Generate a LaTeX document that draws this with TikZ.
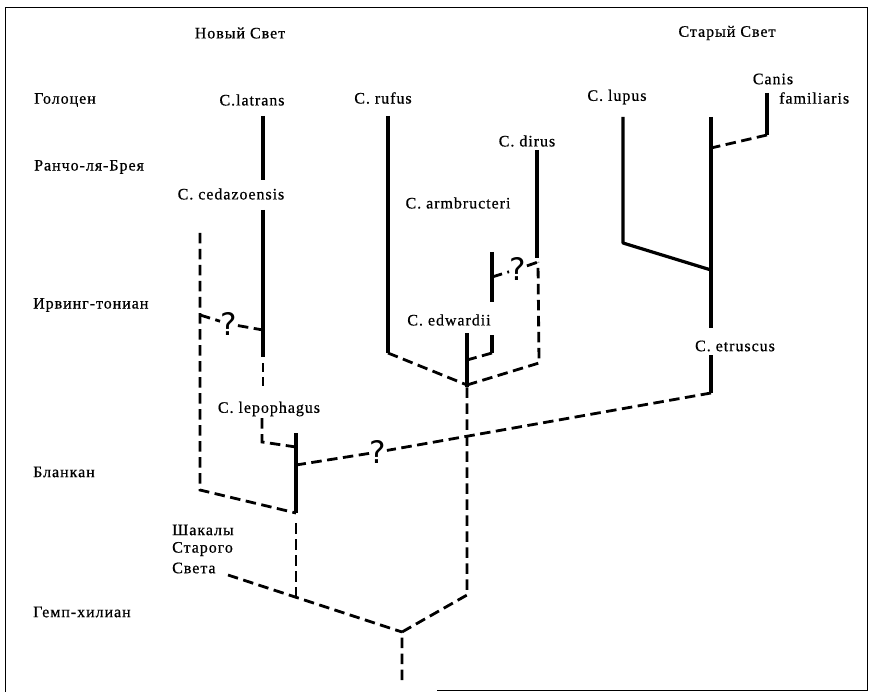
\documentclass[tikz,border=0pt]{standalone}
\usepackage{fontspec}
\setmainfont{Liberation Serif}[LetterSpace=6,FakeBold=0.6]
\newfontfamily\qfont{DejaVu Sans}
\begin{document}
\begin{tikzpicture}[x=1pt,y=-1pt,
  lbl/.style={inner sep=0pt,font=\fontsize{16}{19}\selectfont},
  era/.style={lbl,anchor=west},
  sol/.style={line width=3.2pt},
  dsh/.style={line width=2.8pt,dash pattern=on 10.5pt off 5.5pt},
  qm/.style={inner sep=0.5pt,font=\qfont\fontsize{31}{34}\selectfont}]
\useasboundingbox (0,0) rectangle (869,692);
% frame
\coordinate (f1) at (5,7); \coordinate (f2) at (867,7);
\coordinate (f3) at (867,690); \coordinate (f4) at (437,690);
\coordinate (f5) at (5,692);
\draw[line width=0.8pt] (f5) -- (f1) -- (f2) -- (f3) -- (f4);
% headings
\node[lbl] (nw) at (240,33) {Новый\hspace{5pt}Свет};
\node[lbl] (ow) at (727,33) {Старый\hspace{5pt}Свет};
% eras
\node[era] (e1) at (34,100) {Голоцен};
\node[era] (e2) at (34,167) {Ранчо-ля-Брея};
\node[era] (e3) at (33,305) {Ирвинг-тониан};
\node[era] (e4) at (33,472) {Бланкан};
\node[era] (e5) at (33,612) {Гемп-хилиан};
% species
\node[lbl] (latrans) at (252,100) {C.latrans};
\node[lbl] (rufus) at (383,98) {C. rufus};
\node[lbl] (lupus) at (617,97) {C. lupus};
\node[lbl] (canis) at (773,79) {Canis};
\node[lbl,anchor=west] (famil) at (779,98) {familiaris};
\node[lbl] (dirus) at (527,141) {C. dirus};
\node[lbl] (cedaz) at (231,194) {C. cedazoensis};
\node[lbl] (armb) at (458,203) {C. armbructeri};
\node[lbl] (edw) at (449,320) {C. edwardii};
\node[lbl] (etr) at (735,346) {C. etruscus};
\node[lbl] (lepo) at (269,409) {C. lepophagus};
\node[lbl,anchor=west] (j1) at (172,530) {Шакалы};
\node[lbl,anchor=west] (j2) at (172,549) {Старого};
\node[lbl,anchor=west] (j3) at (172,568) {Света};
% question marks
\node[qm] (q1) at (229,324) {?};
\node[qm] (q2) at (518,269) {?};
\node[qm] (q3) at (378,452) {?};
% coordinates
\coordinate (la1) at (263,116); \coordinate (la2) at (263,180);
\coordinate (la3) at (263,210); \coordinate (la4) at (263,330);
\coordinate (la5) at (263,357); \coordinate (la5b) at (263,363);
\coordinate (la6) at (263,390);
\coordinate (lp1) at (262,418); \coordinate (lp2) at (262,442);
\coordinate (lp3) at (296,447);
\coordinate (lb1) at (296,433); \coordinate (lb2) at (296,465);
\coordinate (lb3) at (296,513); \coordinate (lb4) at (296,523);
\coordinate (lb5) at (296,597);
\coordinate (ld1) at (200,233); \coordinate (ld2) at (200,315);
\coordinate (ld3) at (200,490);
\coordinate (ja) at (228,575);
\coordinate (root) at (402,632); \coordinate (rootb) at (402,680);
\coordinate (ed0) at (467,595); \coordinate (ed1) at (467,387);
\coordinate (ed2) at (467,333); \coordinate (edj) at (467,385);
\coordinate (ed3) at (467,360);
\coordinate (ru1) at (388,116); \coordinate (ru2) at (388,353);
\coordinate (di1) at (537,150); \coordinate (di2) at (537,258);
\coordinate (di3) at (538,262); \coordinate (di4) at (539,363);
\coordinate (ar1) at (492,252); \coordinate (ar2) at (492,302);
\coordinate (ar3) at (492,277);
\coordinate (sm1) at (492,335); \coordinate (sm2) at (492,353);
\coordinate (lu1) at (623,117); \coordinate (lu2) at (623,243);
\coordinate (ow1) at (711,117); \coordinate (ow2) at (711,270);
\coordinate (ow3) at (711,148); \coordinate (ow4) at (711,328);
\coordinate (et1) at (711,355); \coordinate (et2) at (711,393);
\coordinate (fa1) at (767,93); \coordinate (fa2) at (767,135);
% solid lines
\draw[sol] (la1) -- (la2);
\draw[sol] (la3) -- (la5);
\draw[sol] (ru1) -- (ru2);
\draw[sol] (di1) -- (di2);
\draw[sol] (ar1) -- (ar2);
\draw[sol] (ed2) -- (ed1);
\draw[sol] (sm1) -- (sm2);
\draw[sol,line join=round] (lu1) -- (lu2) -- (ow2);
\draw[sol] (ow1) -- (ow4);
\draw[sol] (et1) -- (et2);
\draw[sol] (fa1) -- (fa2);
\draw[sol] (lb1) -- (lb3);
% dashed lines
\draw[dsh,dash pattern=on 9pt off 5pt] (la5b) -- (la6);
\draw[dsh] (lp1) -- (lp2) -- (lp3);
\draw[dsh] (ld1) -- (ld3) -- (lb3);
\draw[dsh] (ld2) -- (q1) -- (la4);
\draw[dsh] (lb4) -- (lb5);
\draw[dsh] (ja) -- (root);
\draw[dsh] (rootb) -- (root) -- (ed0) -- (ed1);
\draw[dsh] (ru2) -- (edj);
\draw[dsh] (edj) -- (di4) -- (di3);
\draw[dsh] (ar3) -- (q2) -- (di3);
\draw[dsh] (sm2) -- (ed3);
\draw[dsh] (et2) -- (q3) -- (lb2);
\draw[dsh] (fa2) -- (ow3);
\end{tikzpicture}
\end{document}
